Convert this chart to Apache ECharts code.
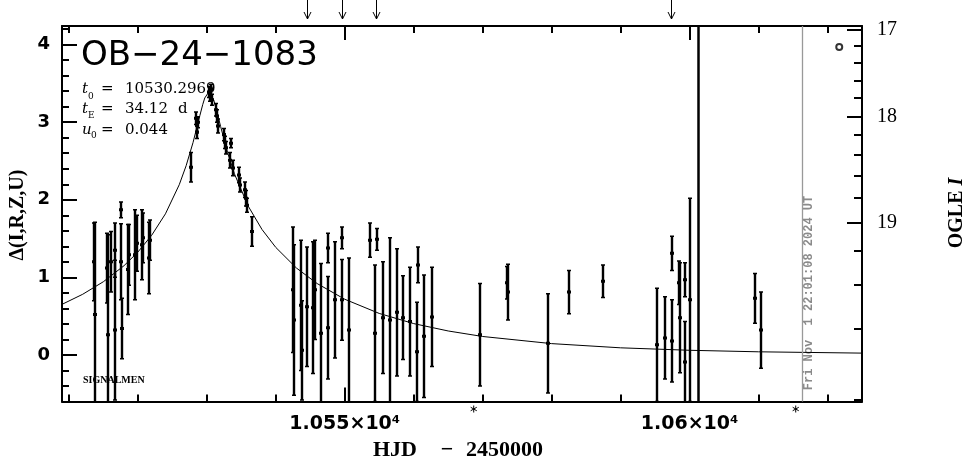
<!DOCTYPE html>
<html><head><meta charset="utf-8">
<script src="https://cdn.jsdelivr.net/npm/echarts@6/dist/echarts.min.js"></script>
<style>html,body{margin:0;padding:0;background:#fff}#c{width:965px;height:459px}</style>
</head><body><div id="c"></div>
<script>
// ---------------- data ----------------
const obsT = [10513.61,10513.75,10515.49,10515.64,10516.07,10516.65,10516.70,10517.52,10517.55,10517.67,10518.54,10518.68,10519.55,10519.84,10520.57,10520.71,10521.58,10521.73,
 10527.67,10528.40,10528.54,10528.56,10528.69,10530.28,10530.43,10530.57,10530.72,10531.30,10531.44,10531.59,10532.46,10532.60,10532.75,10533.47,10533.33,10533.76,10534.63,10534.78,10535.50,10535.64,10535.79,10536.52,
 10542.46,10542.61,10543.62,10543.77,10544.49,10545.36,10545.65,10546.52,10547.54,10547.56,10548.55,10549.57,10549.60,10550.58,10553.62,10554.64,10554.35,10555.51,10556.52,10557.54,10558.41,10559.42,10560.58,10560.45,10561.45,10562.61,
 10569.57,10573.49,10573.63,10579.43,10582.48,10587.41,10595.24,10596.40,10597.41,10597.45,10598.43,10598.57,10599.30,10599.33,10600.02,10609.45,10610.32];
const obsD = [1.20,0.52,1.12,0.26,1.20,1.35,0.32,1.87,1.20,0.34,1.10,1.29,1.29,1.44,1.42,1.51,1.25,1.48,
 2.42,3.05,2.96,2.87,3.00,3.39,3.34,3.42,3.29,3.16,3.08,2.95,2.84,2.74,2.67,2.73,2.51,2.41,2.32,2.19,2.13,2.02,1.93,1.59,
 0.84,0.45,0.64,0.06,0.62,0.61,0.84,0.28,1.38,0.35,0.71,1.51,0.71,0.32,1.48,1.49,0.28,0.48,0.45,0.55,0.48,0.43,1.16,0.04,0.24,0.49,
 0.26,0.93,0.81,0.15,0.81,0.95,0.13,0.22,1.31,0.18,0.93,0.48,0.97,-0.09,0.71,0.73,0.32];
const obsE = [0.50,1.19,0.45,1.29,0.39,0.35,0.90,0.10,0.49,0.39,0.58,0.39,0.58,0.36,0.45,0.32,0.46,0.26,
 0.19,0.08,0.08,0.08,0.07,0.07,0.07,0.07,0.07,0.08,0.08,0.09,0.08,0.08,0.08,0.06,0.10,0.10,0.10,0.09,0.10,0.10,0.09,0.19,
 0.81,0.97,0.84,0.64,0.77,0.85,0.64,0.90,0.19,0.66,0.75,0.14,0.52,0.93,0.22,0.14,0.88,0.72,1.06,0.82,0.54,0.70,0.23,0.64,0.79,0.64,
 0.66,0.21,0.36,0.64,0.28,0.21,0.73,0.53,0.22,0.53,0.28,0.71,0.22,0.52,1.31,0.32,0.49];

const modelT = [10509,10512,10515,10518,10520,10522,10524,10526,10527,10528,10529,10529.4,10529.7,10530.3,10531,10531.5,10532,10533,10534,10536,10538,10540,10543,10546,10550,10555,10560,10565,10570,10580,10590,10600,10610,10625];
const modelD = [0.652,0.782,0.944,1.151,1.326,1.542,1.819,2.194,2.439,2.738,3.089,3.226,3.312,3.392,3.286,3.124,2.945,2.611,2.335,1.918,1.617,1.386,1.120,0.920,0.718,0.535,0.404,0.309,0.238,0.146,0.092,0.060,0.0405,0.0236];

const xMinorTicks = [10510,10520,10530,10540,10550,10560,10570,10580,10590,10600,10610,10620];
const xMajorTicks = [10550,10600];
const xMajorLabels = ['1.055×10⁴','1.06×10⁴'];
const yMinorTicks = [-0.4,-0.2,0.2,0.4,0.6,0.8,1.2,1.4,1.6,1.8,2.2,2.4,2.6,2.8,3.2,3.4,3.6,3.8,4.2];
const yMajorTicks = [0,1,2,3,4];
const magMajor = [17,18,19];
const magMinor = [17.2,17.4,17.6,17.8,18.2,18.4,18.6,18.8,19.2,19.4,19.6,19.8];
const arrowT = [10544.49,10549.57,10554.49,10597.27];
const starT = [10568.70,10615.39];
const refLineT = 10601.2;
const dateLineT = 10616.4;
const legendMarker = [10621.7,3.97];
const params = {t0:'10530.2969', tE:'34.12', u0:'0.044'};

// ------------- axis mapping for OGLE I (baseline 19.69, source fraction 0.234) -------------
const Ib = 19.69, fs = 0.234;
const magToDelta = m => 2.5*Math.log10((Math.pow(10,0.4*(Ib-m)) - 1 + fs)/fs);
const magMajorPos = magMajor.map(magToDelta);
const magMinorPos = magMinor.map(magToDelta);

const xMin = 10509, xMax = 10625, yMin = -0.6, yMax = 4.24;
const black = '#000';
const tickStyle = {color: black, width: 2};
const noSplit = {show:false};
const lineOn = {show:true, onZero:false, lineStyle:{color:black,width:2}};
const lineOff = {show:false, onZero:false};

const chart = echarts.init(document.getElementById('c'), null, {renderer:'canvas'});

function renderErr(p, api){
  const t = api.value(0), d = api.value(1), e = api.value(2);
  const cs = p.coordSys;
  const c = api.coord([t,d]);
  const x = Math.round(c[0]), yc = c[1];
  const yTop = api.coord([t,d+e])[1], yBot = api.coord([t,d-e])[1];
  const top = Math.max(yTop, cs.y), bot = Math.min(yBot, cs.y+cs.height);
  const ch = [];
  if (bot > top) ch.push({type:'line', shape:{x1:x,y1:top,x2:x,y2:bot}, style:{stroke:black,lineWidth:2.4}});
  if (yTop >= cs.y) ch.push({type:'line', shape:{x1:x-2,y1:yTop,x2:x+2,y2:yTop}, style:{stroke:black,lineWidth:1.5}});
  if (yBot <= cs.y+cs.height) ch.push({type:'line', shape:{x1:x-2,y1:yBot,x2:x+2,y2:yBot}, style:{stroke:black,lineWidth:1.5}});
  if (yc >= cs.y && yc <= cs.y+cs.height) ch.push({type:'rect', shape:{x:x-2,y:yc-1.5,width:4,height:3}, style:{fill:black}});
  return {type:'group', children:ch};
}

const errData = obsT.map((t,i)=>[t,obsD[i],obsE[i]]);
const modelData = modelT.map((t,i)=>[t,modelD[i]]);

const xBase = {type:'value', min:xMin, max:xMax, splitLine:noSplit};
const yBase = {type:'value', min:yMin, max:yMax, splitLine:noSplit};

chart.setOption({
  animation:false,
  backgroundColor:'#fff',
  grid:{left:62, top:26, width:800, height:375.5, containLabel:false, outerBoundsMode:'none'},
  xAxis:[
    Object.assign({}, xBase, {position:'bottom', axisLine:lineOn,
      axisTick:{show:true,inside:true,length:7,lineStyle:tickStyle,customValues:xMinorTicks}, axisLabel:{show:false}}),
    Object.assign({}, xBase, {position:'bottom', axisLine:lineOff,
      axisTick:{show:true,inside:true,length:14,lineStyle:tickStyle,customValues:xMajorTicks},
      axisLabel:{show:true,customValues:xMajorTicks,margin:13,color:black,fontFamily:'DejaVu Sans',fontWeight:'bold',fontSize:19,
        formatter:v=>{const i=xMajorTicks.findIndex(q=>Math.abs(q-v)<1e-6);return i>=0?xMajorLabels[i]:'';}}}),
    Object.assign({}, xBase, {position:'top', axisLine:lineOn,
      axisTick:{show:true,inside:true,length:7,lineStyle:tickStyle,customValues:xMinorTicks}, axisLabel:{show:false}}),
    Object.assign({}, xBase, {position:'top', axisLine:lineOff,
      axisTick:{show:true,inside:true,length:14,lineStyle:tickStyle,customValues:xMajorTicks}, axisLabel:{show:false}})
  ],
  yAxis:[
    Object.assign({}, yBase, {position:'left', axisLine:lineOn,
      axisTick:{show:true,inside:true,length:7,lineStyle:tickStyle,customValues:yMinorTicks}, axisLabel:{show:false}}),
    Object.assign({}, yBase, {position:'left', axisLine:lineOff,
      axisTick:{show:true,inside:true,length:15,lineStyle:tickStyle,customValues:yMajorTicks},
      axisLabel:{show:true,customValues:yMajorTicks,margin:12,color:black,fontFamily:'DejaVu Sans',fontWeight:'bold',fontSize:18,
        formatter:v=>String(Math.round(v))}}),
    Object.assign({}, yBase, {position:'right', axisLine:lineOn,
      axisTick:{show:true,inside:true,length:8,lineStyle:tickStyle,customValues:magMinorPos}, axisLabel:{show:false}}),
    Object.assign({}, yBase, {position:'right', axisLine:lineOff,
      axisTick:{show:true,inside:true,length:15,lineStyle:tickStyle,customValues:magMajorPos},
      axisLabel:{show:true,customValues:magMajorPos,margin:15,color:black,fontFamily:'Liberation Serif',fontSize:20,
        formatter:v=>{const i=magMajorPos.findIndex(q=>Math.abs(q-v)<1e-6);return i>=0?String(magMajor[i]):'';}}})
  ],
  series:[
    {type:'line', xAxisIndex:0, yAxisIndex:0, data:modelData, showSymbol:false, symbol:'none', silent:true,
      lineStyle:{color:black,width:1}, clip:true,
      markLine:{silent:true, symbol:'none', label:{show:false}, animation:false,
        data:[{xAxis:refLineT, lineStyle:{color:black,width:2.5,type:'solid'}},
              {xAxis:dateLineT, lineStyle:{color:'#999',width:1.3,type:'solid'}}]}},
    {type:'custom', xAxisIndex:0, yAxisIndex:0, data:errData, renderItem:renderErr, clip:true, silent:true,
      encode:{x:0,y:1}},
    {type:'scatter', xAxisIndex:0, yAxisIndex:0, data:[legendMarker], symbol:'circle', symbolSize:6, silent:true,
      itemStyle:{color:'#fff', borderColor:black, borderWidth:2}}
  ]
});

// ------------- annotations -------------
const px = t => chart.convertToPixel({xAxisIndex:0}, t);
const g = [];
arrowT.forEach(t=>{
  const x = Math.round(px(t))+0.5;
  g.push({type:'polyline', shape:{points:[[x,0],[x,19]]}, style:{stroke:black,lineWidth:1,fill:null}});
  g.push({type:'polyline', shape:{points:[[x-3.5,12],[x,19],[x+3.5,12]]}, style:{stroke:black,lineWidth:1,fill:null}});
});
starT.forEach(t=>{
  const x = px(t), y = 409, r = 3.5;
  g.push({type:'line', shape:{x1:x,y1:y-r,x2:x,y2:y+r}, style:{stroke:black,lineWidth:1}});
  g.push({type:'line', shape:{x1:x-r*0.87,y1:y-r*0.5,x2:x+r*0.87,y2:y+r*0.5}, style:{stroke:black,lineWidth:1}});
  g.push({type:'line', shape:{x1:x-r*0.87,y1:y+r*0.5,x2:x+r*0.87,y2:y-r*0.5}, style:{stroke:black,lineWidth:1}});
});
const T = (text, x, y, font, extra) => Object.assign({type:'text', x, y, silent:true,
  style:Object.assign({text, fill:black, font, textAlign:'left', textVerticalAlign:'middle'}, extra||{})});
// Title
g.push(T('OB−24−1083', 81, 56, '34px "DejaVu Sans"'));
// params
const pf = '15px "DejaVu Serif"', pi = 'italic 15px "DejaVu Serif"', ps = '9px "DejaVu Serif"';
g.push(T('t', 82, 89, pi)); g.push(T('0', 88, 97, ps)); g.push(T('=', 101, 89, pf)); g.push(T(params.t0, 125, 89, pf));
g.push(T('t', 82, 109, pi)); g.push(T('E', 88, 116, ps)); g.push(T('=', 101, 109, pf)); g.push(T(params.tE, 125, 109, pf)); g.push(T('d', 178, 109, pf));
g.push(T('u', 82, 130, pi)); g.push(T('0', 91, 136, ps)); g.push(T('=', 101, 130, pf)); g.push(T(params.u0, 125, 130, pf));
// Signalmen
g.push(T('SIGNALMEN', 83, 380, 'bold 10px "Liberation Serif"'));
// axis titles
g.push(T('HJD', 373, 450, 'bold 22px "Liberation Serif"'));
g.push(T('−', 447, 450, 'bold 22px "Liberation Serif"', {textAlign:'center'}));
g.push(T('2450000', 466, 450, 'bold 22px "Liberation Serif"'));
g.push({type:'text', x:18, y:215, rotation:Math.PI/2, silent:true,
  style:{text:'Δ(I,R,Z,U)', fill:black, font:'bold 20px "Liberation Serif"', textAlign:'center', textVerticalAlign:'middle'}});
g.push({type:'text', x:957, y:213, rotation:Math.PI/2, silent:true,
  style:{text:'{a|OGLE }{b|I}', fill:black, textAlign:'center', textVerticalAlign:'middle',
    rich:{a:{font:'bold 20px "Liberation Serif"', fill:black}, b:{font:'bold italic 20px "Liberation Serif"', fill:black}}}});
// date
g.push({type:'text', x:px(dateLineT)+6, y:293, rotation:Math.PI/2, silent:true,
  style:{text:'Fri Nov  1 22:01:08 2024 UT', fill:'#8a8a8a', font:'bold 12px "Liberation Mono"', textAlign:'center', textVerticalAlign:'middle'}});

chart.setOption({graphic:g});
</script>
</body></html>
